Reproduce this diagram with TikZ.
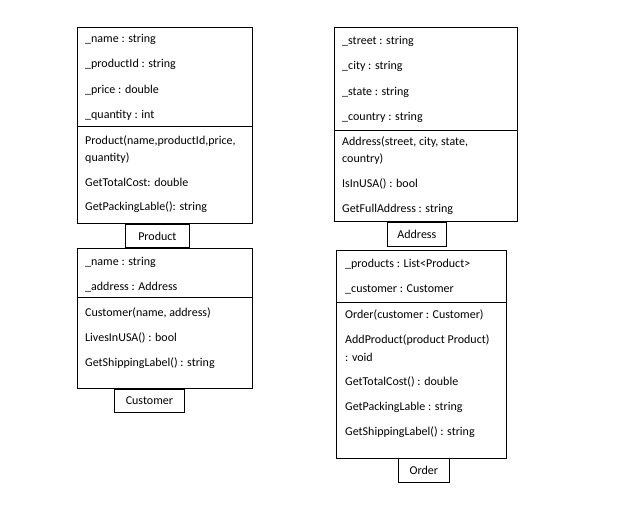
\documentclass[tikz,border=0pt]{standalone}
\usepackage{fontspec}
\setmainfont{Carlito}
\usetikzlibrary{positioning}
\tikzset{
  classbox/.style={draw=black,fill=white,line width=.8pt,anchor=north west,inner sep=0pt},
  namebox/.style={draw=black,fill=white,line width=.8pt,anchor=north west,inner sep=0pt,font=\fontsize{12}{14}\selectfont},
  member/.style={anchor=west,inner sep=0pt,yshift=-1pt,font=\fontsize{12}{14}\selectfont},
  divider/.style={draw=black,line width=.8pt}
}
\begin{document}
\begin{tikzpicture}[x=1pt,y=-1pt]
  \useasboundingbox[fill=white] (0,0) rectangle (620,505);
  % Product
  \node[classbox,minimum width=175pt,minimum height=196pt] (product) at (77,27) {};
  \draw[divider] (product.west |- 0,126) -- (product.east |- 0,126);
  \foreach [count=\i] \yy/\txt in {38/{\_name : string},63/{\_productId : string},89/{\_price : double},114/{\_quantity : int},
      140/{Product(name,productId,price,},157/{quantity)},181/{GetTotalCost: double},206/{GetPackingLable(): string}}
    \node[member] (prodline\i) at (85,\yy) {\txt};
  \node[namebox,minimum width=64pt,minimum height=23pt] (productname) at (125,224) {Product};
  % Address
  \node[classbox,minimum width=183pt,minimum height=194pt] (address) at (334,27) {};
  \draw[divider] (address.west |- 0,130) -- (address.east |- 0,130);
  \foreach [count=\i] \yy/\txt in {40/{\_street : string},65/{\_city : string},91/{\_state : string},116/{\_country : string},
      141/{Address(street, city, state,},158/{country)},183/{IsInUSA() : bool},208/{GetFullAddress : string}}
    \node[member] (addrline\i) at (342,\yy) {\txt};
  \node[namebox,minimum width=59pt,minimum height=24pt] (addressname) at (387,222) {Address};
  % Customer
  \node[classbox,minimum width=175pt,minimum height=140pt] (customer) at (77,248) {};
  \draw[divider] (customer.west |- 0,297) -- (customer.east |- 0,297);
  \foreach [count=\i] \yy/\txt in {261/{\_name : string},286/{\_address : Address},
      312/{Customer(name, address)},337/{LivesInUSA() : bool},362/{GetShippingLabel() : string}}
    \node[member] (custline\i) at (85,\yy) {\txt};
  \node[namebox,minimum width=70pt,minimum height=23pt] (customername) at (114,389) {Customer};
  % Order
  \node[classbox,minimum width=170pt,minimum height=208pt] (order) at (336,250) {};
  \draw[divider] (order.west |- 0,302) -- (order.east |- 0,302);
  \foreach [count=\i] \yy/\txt in {263/{\_products : List<Product>},288/{\_customer : Customer},
      314/{Order(customer : Customer)},339/{AddProduct(product Product)},356/{: void},
      381/{GetTotalCost() : double},406/{GetPackingLable : string},431/{GetShippingLabel() : string}}
    \node[member] (ordline\i) at (345,\yy) {\txt};
  \node[namebox,minimum width=51pt,minimum height=24pt] (ordername) at (398,458) {Order};
\end{tikzpicture}
\end{document}
